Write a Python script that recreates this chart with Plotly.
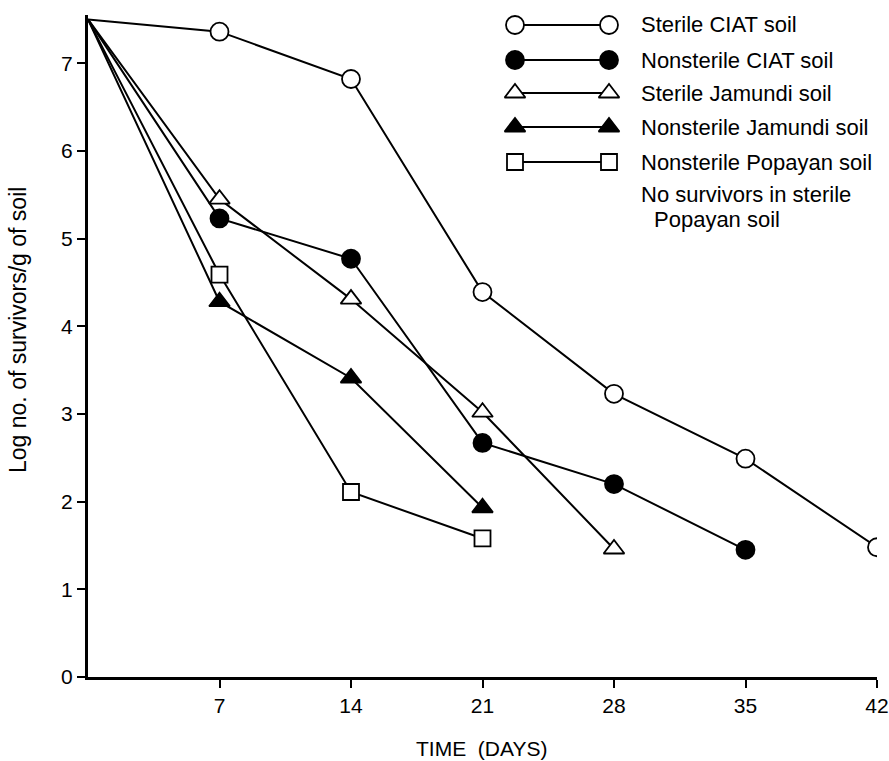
import plotly.graph_objects as go

# ---- data ----
days_all = [0, 7, 14, 21, 28, 35, 42]
sterile_ciat = [7.5, 7.36, 6.82, 4.39, 3.23, 2.49, 1.48]
nonsterile_ciat = [7.5, 5.23, 4.77, 2.67, 2.20, 1.45]
sterile_jamundi = [7.5, 5.45, 4.31, 3.02, 1.46]
nonsterile_jamundi = [7.5, 4.28, 3.41, 1.93]
nonsterile_popayan = [7.5, 4.59, 2.11, 1.58]

series_names = ["Sterile CIAT soil", "Nonsterile CIAT soil", "Sterile Jamundi soil",
                "Nonsterile Jamundi soil", "Nonsterile Popayan soil"]
series_values = [sterile_ciat, nonsterile_ciat, sterile_jamundi, nonsterile_jamundi, nonsterile_popayan]
note_lines = ["No survivors in sterile", "Popayan soil"]
x_title = "TIME  (DAYS)"
y_title = "Log no. of survivors/g of soil"

x_ticks = [7, 14, 21, 28, 35, 42]
y_ticks = [0, 1, 2, 3, 4, 5, 6, 7]

# ---- styles ----
styles = [
    dict(symbol="circle", size=18, color="white"),
    dict(symbol="circle", size=18, color="black"),
    dict(symbol="triangle-up", size=18, color="white"),
    dict(symbol="triangle-up", size=18, color="black"),
    dict(symbol="square", size=16, color="white"),
]

FONT = "Liberation Sans, Arial, Helvetica, sans-serif"
W, H = 889, 761
ML, MR, MT, MB = 88, 12, 15, 84
PW, PH = W - ML - MR, H - MT - MB


def px_x(px):
    return (px - ML) / PW


def px_y(py):
    return (H - MB - py) / PH


fig = go.Figure()

for vals, st in zip(series_values, styles):
    xs = days_all[:len(vals)]
    fig.add_trace(go.Scatter(x=xs, y=vals, mode="lines",
                             line=dict(color="black", width=2), showlegend=False,
                             hoverinfo="skip"))
for vals, st in zip(series_values, styles):
    xs = days_all[1:len(vals)]
    fig.add_trace(go.Scatter(x=xs, y=vals[1:], mode="markers",
                             marker=dict(symbol=st["symbol"], size=st["size"], color=st["color"],
                                         line=dict(color="black", width=1.8)),
                             showlegend=False))

# ---- custom legend on a pixel-based overlay axis ----
leg_x0, leg_x1, leg_tx = 515, 609, 639
leg_rows = [25, 60, 93, 127, 162]
LEG_SIZE = 22
for name, st, ry in zip(series_names, styles, leg_rows):
    fig.add_trace(go.Scatter(x=[leg_x0, leg_x1], y=[ry, ry], mode="lines+markers",
                             xaxis="x2", yaxis="y2",
                             line=dict(color="black", width=2),
                             marker=dict(symbol=st["symbol"], size=st["size"], color=st["color"],
                                         line=dict(color="black", width=1.8)),
                             showlegend=False, hoverinfo="skip"))
    fig.add_annotation(x=px_x(leg_tx), y=px_y(ry), xref="paper", yref="paper", text=name,
                       showarrow=False, xanchor="left", yanchor="middle",
                       font=dict(family=FONT, size=LEG_SIZE, color="black"))
fig.add_annotation(x=px_x(leg_tx), y=px_y(195), xref="paper", yref="paper", text=note_lines[0],
                   showarrow=False, xanchor="left", yanchor="middle",
                   font=dict(family=FONT, size=LEG_SIZE, color="black"))
fig.add_annotation(x=px_x(leg_tx + 13), y=px_y(219), xref="paper", yref="paper", text=note_lines[1],
                   showarrow=False, xanchor="left", yanchor="middle",
                   font=dict(family=FONT, size=LEG_SIZE, color="black"))

# axis titles placed in pixel coordinates
fig.add_annotation(x=px_x(481), y=px_y(748), xref="paper", yref="paper", text=x_title,
                   showarrow=False, xanchor="center", yanchor="middle",
                   font=dict(family=FONT, size=21, color="black"))
fig.add_annotation(x=px_x(18), y=px_y(330), xref="paper", yref="paper", text=y_title,
                   showarrow=False, textangle=-90, xanchor="center", yanchor="middle",
                   font=dict(family=FONT, size=23, color="black"))

fig.update_layout(
    width=W, height=H,
    margin=dict(l=ML, r=MR, t=MT, b=MB),
    paper_bgcolor="white", plot_bgcolor="white",
    font=dict(family=FONT, color="black"),
    hovermode=False,
    xaxis=dict(range=[0, 42], tickvals=x_ticks, ticktext=[str(v) for v in x_ticks],
               showgrid=False, zeroline=False, showline=True, linecolor="black", linewidth=3,
               ticks="outside", ticklen=8, tickwidth=2, tickcolor="black", automargin=False,
               tickfont=dict(family=FONT, size=21)),
    yaxis=dict(range=[0, 7.55], tickvals=y_ticks, automargin=False,
               showgrid=False, zeroline=False, showline=True, linecolor="black", linewidth=3,
               ticks="outside", ticklen=8, tickwidth=2, tickcolor="black",
               tickfont=dict(family=FONT, size=21)),
    xaxis2=dict(range=[ML, W - MR], overlaying="x", visible=False, fixedrange=True),
    yaxis2=dict(range=[H - MB, MT], overlaying="y", visible=False, fixedrange=True),
)

fig.write_html("out.html", config={"displayModeBar": False},
               post_script="document.body.style.margin='0';document.body.style.overflow='hidden';")
